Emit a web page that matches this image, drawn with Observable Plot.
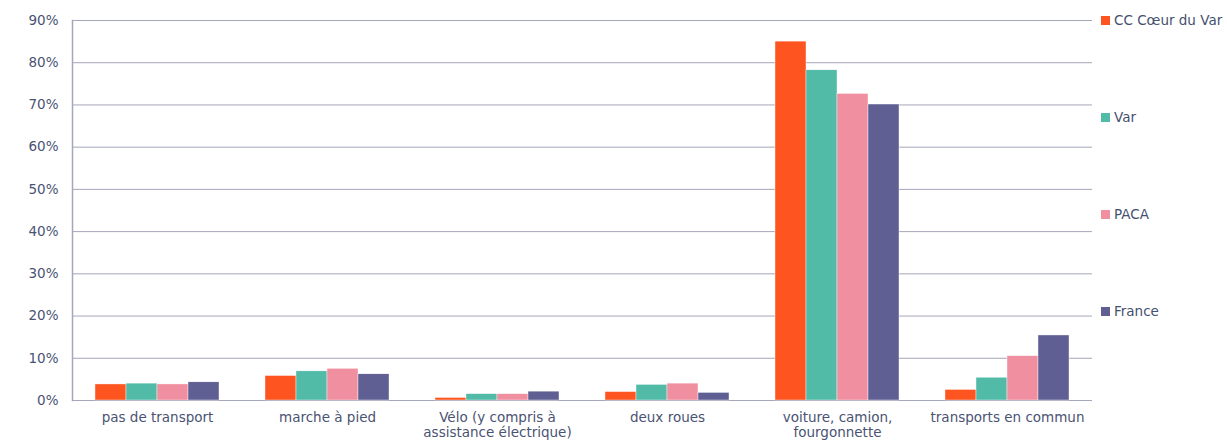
<!DOCTYPE html>
<html><head><meta charset="utf-8">
<script src="https://cdn.jsdelivr.net/npm/d3@7"></script>
<script src="https://cdn.jsdelivr.net/npm/@observablehq/plot@0.6"></script>
<style>
body{margin:0;background:#fff;font-family:"DejaVu Sans",Verdana,sans-serif;}
#wrap{position:relative;width:1227px;height:444px;}
#legend{position:absolute;left:1101px;top:0;}
.item{position:absolute;left:0;white-space:nowrap;font-size:13.5px;color:#44506e;display:flex;align-items:center;}
.sw{width:9px;height:9px;margin-right:4px;}
</style></head>
<body><div id="wrap"><div id="chart"></div><div id="legend"></div></div>
<script>
const categories = ["pas de transport","marche à pied","Vélo (y compris à assistance électrique)","deux roues","voiture, camion, fourgonnette","transports en commun"];
const tickLabels = ["pas de transport","marche à pied","Vélo (y compris à\nassistance électrique)","deux roues","voiture, camion,\nfourgonnette","transports en commun"];
const series = ["CC Cœur du Var","Var","PACA","France"];
const colors = ["#fe5520","#52bba8","#f08fa0","#5f5f93"];
const ccCoeurDuVar = [3.8, 5.8, 0.6, 2.0, 85.0, 2.5];
const varDep       = [4.0, 6.9, 1.5, 3.7, 78.2, 5.4];
const paca         = [3.8, 7.5, 1.5, 4.0, 72.6, 10.5];
const france       = [4.3, 6.2, 2.1, 1.8, 70.1, 15.4];
const yTicks = [0,10,20,30,40,50,60,70,80,90];

const values = [ccCoeurDuVar, varDep, paca, france];
const data = [];
categories.forEach((c,i)=>series.forEach((s,j)=>data.push({category:c, series:s, value:values[j][i]})));

const textColor = "#4a5373";
const gridColor = "#a4a6b9";
const chart = Plot.plot({
  width: 1095, height: 444,
  marginLeft: 70, marginRight: 2, marginTop: 20, marginBottom: 44,
  style: {fontFamily: '"DejaVu Sans", Verdana, sans-serif', fontSize: "13.5px", color: textColor, background: "#fff"},
  fx: {domain: categories, padding: 0, label: null},
  x: {domain: series, paddingInner: 0, paddingOuter: 0.73, axis: null},
  y: {domain: [0, 90], label: null},
  color: {domain: series, range: colors},
  marks: [
    Plot.gridY(yTicks, {stroke: gridColor, strokeOpacity: 1, strokeWidth: 1}),
    Plot.frame({anchor: "left", facetAnchor: "left", stroke: gridColor, strokeWidth: 1.5}),
    Plot.barY(data, {fx: "category", x: "series", y: "value", fill: "series", stroke: "white", strokeWidth: 0.4}),
    Plot.axisY(yTicks, {tickSize: 0, tickPadding: 14, tickFormat: d => d + "%", label: null, fill: textColor, fontSize: 13.5}),
    Plot.axisFx({anchor: "bottom", tickSize: 0, tickPadding: 10, label: null, tickFormat: d => tickLabels[categories.indexOf(d)], fill: textColor, fontSize: 13.5, lineHeight: 1.15})
  ]
});
document.getElementById("chart").appendChild(chart);

const legend = document.getElementById("legend");
series.forEach((s,i)=>{
  const d = document.createElement("div");
  d.className = "item";
  d.style.top = (12 + i*97) + "px";
  d.innerHTML = `<span class="sw" style="background:${colors[i]}"></span><span>${s}</span>`;
  legend.appendChild(d);
});
</script></body></html>
